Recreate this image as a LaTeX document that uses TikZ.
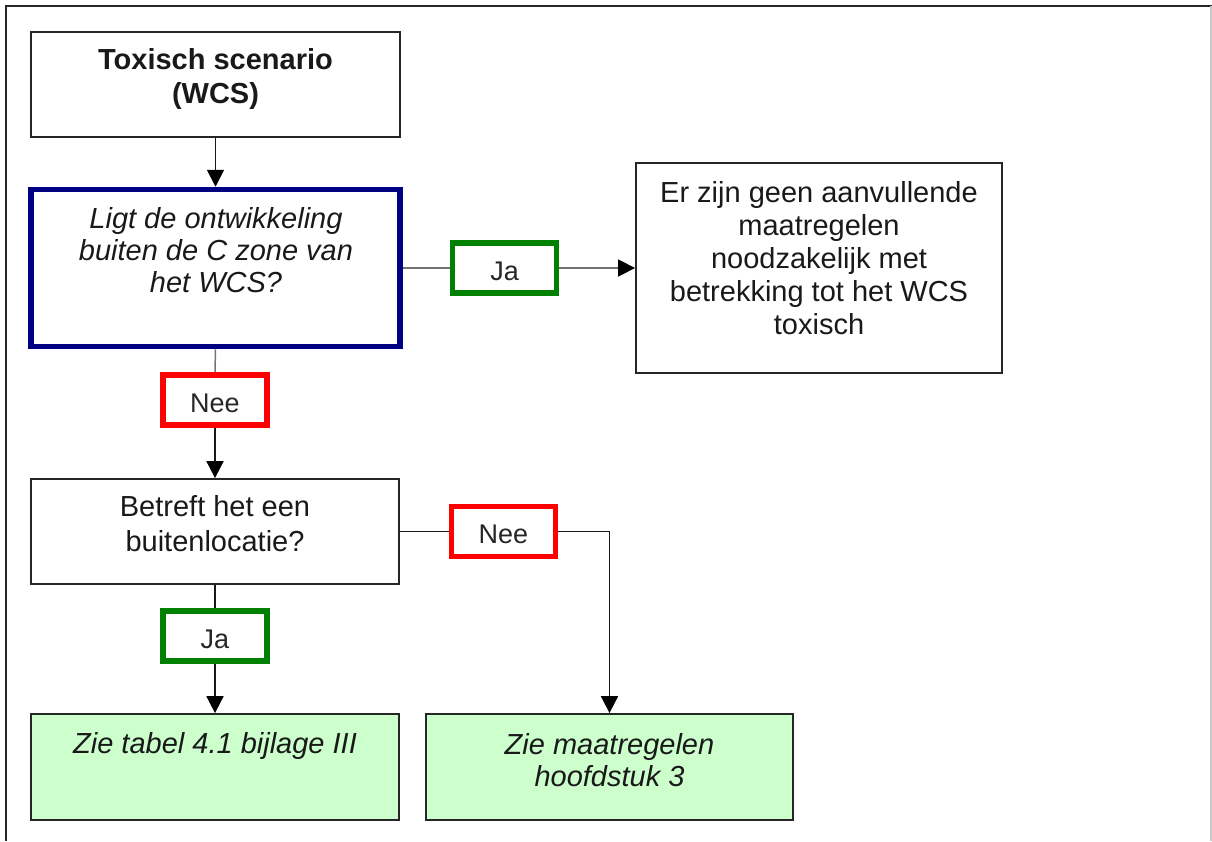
\documentclass[tikz,border=0pt]{standalone}
\usepackage{fontspec}
\setmainfont{Liberation Sans}
\usetikzlibrary{arrows.meta}
\definecolor{navyb}{HTML}{000080}
\definecolor{greenb}{HTML}{008000}
\definecolor{redb}{HTML}{FF0000}
\definecolor{fillg}{HTML}{CCFFCC}
\begin{document}
\begin{tikzpicture}[x=1pt,y=-1pt,
  boxn/.style={draw=black!85, line width=1.8pt, inner sep=0pt},
  qbox/.style={draw=navyb, line width=5.5pt, inner sep=0pt},
  resbox/.style={boxn, fill=fillg},
  lab/.style={line width=5.5pt, inner sep=0pt, minimum width=104pt, minimum height=50pt,
    font=\fontsize{27}{32}\selectfont, text=black!85, text height=24pt, text depth=0pt},
  yes/.style={lab, draw=greenb},
  no/.style={lab, draw=redb},
  txt/.style={inner sep=0pt, align=center, text=black!90, anchor=north},
  conn/.style={draw=black!90, line width=1.8pt},
  gconn/.style={draw=black!55, line width=1.5pt},
  arr/.style={-{Triangle[length=17pt,width=17pt,color=black]}}
]
\useasboundingbox (0,0) rectangle (1212,841);
% frame
\draw[line width=2.3pt, black!85] (5.7,841) -- (5.7,5.7) -- (1212,5.7);
\draw[line width=2pt, black!22] (1210.7,5.7) -- (1210.7,841);

% boxes
\node[boxn, minimum width=369pt, minimum height=105pt] (b1) at (215.5,84.5) {};
\node[qbox, minimum width=369pt, minimum height=157pt] (b2) at (215.5,268) {};
\node[boxn, minimum width=366pt, minimum height=210pt] (b3) at (819,268) {};
\node[boxn, minimum width=368pt, minimum height=105pt] (b4) at (215,531.5) {};
\node[resbox, minimum width=368pt, minimum height=106pt] (b5) at (215,767) {};
\node[resbox, minimum width=367pt, minimum height=106pt] (b6) at (609.5,767) {};

% texts
\node[txt, font=\fontsize{29}{34}\selectfont\bfseries] (t1) at (215.5,48.2) {Toxisch scenario\\(WCS)};
\node[txt, font=\fontsize{29}{31.8}\selectfont\itshape] (t2) at (216,207.5) {Ligt de ontwikkeling\\buiten de C zone van\\het WCS?};
\node[txt, font=\fontsize{29}{33.2}\selectfont] (t3) at (819,180.9) {Er zijn geen aanvullende\\maatregelen\\noodzakelijk met\\betrekking tot het WCS\\toxisch};
\node[txt, font=\fontsize{29}{34.4}\selectfont] (t4) at (215,495.5) {Betreft het een\\buitenlocatie?};
\node[txt, font=\fontsize{29}{32}\selectfont\itshape] (t5) at (215,731.9) {Zie tabel 4.1 bijlage III};
\node[txt, font=\fontsize{29}{31.7}\selectfont\itshape] (t6) at (609.5,733.2) {Zie maatregelen\\hoofdstuk 3};

% labels
\node[yes] (ja1) at (504.6,268) {Ja};
\node[no] (nee1) at (215,400) {Nee};
\node[no] (nee2) at (503.5,531.5) {Nee};
\node[yes] (ja2) at (215,636) {Ja};

% connectors
\draw[conn, arr] (b1.south) -- (b2.north);
\draw[gconn] (b2.east) -- (ja1.west);
\draw[gconn, arr] (ja1.east) -- (ja1.east -| b3.west);
\draw[gconn] (b2.south) -- (nee1.north);
\draw[conn, arr] (nee1.south) -- (b4.north);
\draw[conn] (b4.east) -- (nee2.west);
\draw[conn, arr] (nee2.east) -| (b6.north);
\draw[conn] (b4.south) -- (ja2.north);
\draw[conn, arr] (ja2.south) -- (b5.north);
\end{tikzpicture}
\end{document}
